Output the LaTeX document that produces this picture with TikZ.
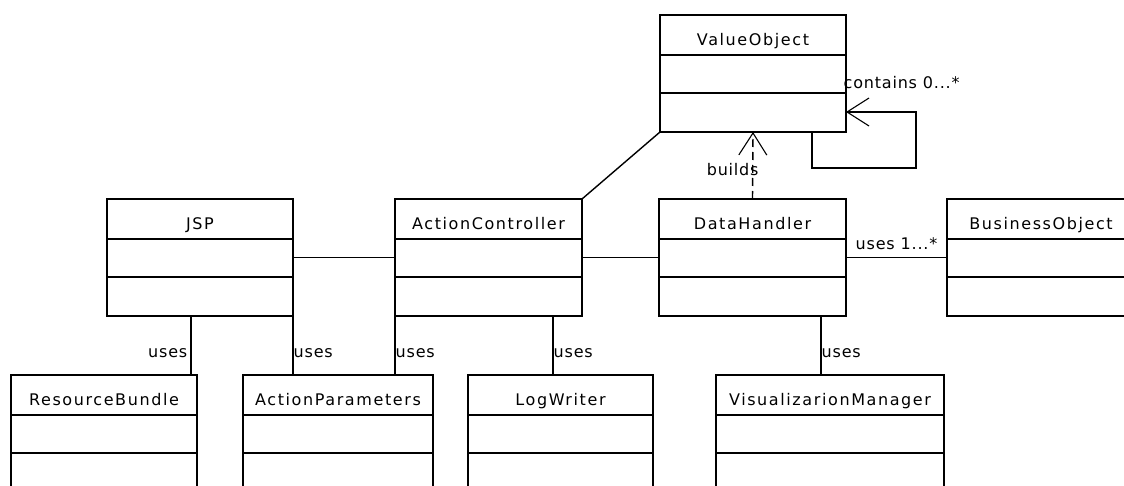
\documentclass[tikz,border=0pt]{standalone}
\usepackage{fontspec}
\usetikzlibrary{shapes.multipart,arrows.meta}
\newfontfamily\classfont[LetterSpace=10]{DejaVu Sans}
\newfontfamily\assocfont[LetterSpace=5]{DejaVu Sans}
% name compartment, then two empty ones
\newcommand{\umlbox}[1]{\vbox to 38.6pt{\vfil\hbox{\smash{#1}}\vskip 9pt}\nodepart{two}\vbox to 36.6pt{}\nodepart{three}\vbox to 37.6pt{}}
\begin{document}
\begin{tikzpicture}[x=1pt,y=-1pt,line width=1.4pt,
  umlclass/.style={draw,rectangle split,rectangle split parts=3,inner sep=0pt,outer sep=0pt,
    minimum width=186pt,anchor=north west,font=\classfont\fontsize{16}{19}\selectfont},
  assoc/.style={font=\assocfont\fontsize{16}{19}\selectfont,inner sep=0pt},
  openhead/.style={-{Straight Barb[length=22pt,width=28pt,line width=1.1pt]}}]
 \useasboundingbox (0,0) rectangle (1124,486);
 \clip (0,0) rectangle (1124,486);
 \node[umlclass] (vo) at (660,15) {\umlbox{ValueObject}};
 \node[umlclass] (jsp) at (107,199) {\umlbox{JSP}};
 \node[umlclass,minimum width=187pt] (ac) at (395,199) {\umlbox{ActionController}};
 \node[umlclass,minimum width=187pt] (dh) at (659,199) {\umlbox{DataHandler}};
 \node[umlclass,minimum width=188pt] (bo) at (947,199) {\umlbox{BusinessObject}};
 \node[umlclass] (rb) at (11,375) {\umlbox{ResourceBundle}};
 \node[umlclass,minimum width=190pt] (ap) at (243,375) {\umlbox{ActionParameters}};
 \node[umlclass,minimum width=185pt] (lw) at (468,375) {\umlbox{LogWriter}};
 \node[umlclass,minimum width=228pt] (vm) at (716,375) {\umlbox{VisualizarionManager}};
 \draw (jsp.east) -- (ac.west);
 \draw (ac.east) -- (dh.west);
 \draw (dh.east) -- node[assoc,anchor=base,yshift=8pt]{uses 1...*} (bo.west);
 \draw (ac.north east) -- (vo.south west);
 \draw[openhead,dash pattern=on 8pt off 5pt] (dh.north) -- node[assoc,pos=0.35,anchor=base,xshift=-20pt]{builds} (vo.south);
 \draw[openhead] ([xshift=-34pt]vo.south east) -- ++(0,36) -| ([xshift=70pt,yshift=20pt]vo.south east)
   -- ([yshift=20pt]vo.south east) node[assoc,anchor=base west,xshift=-3pt,yshift=23pt]{contains 0...*};
 \coordinate (rbtop) at ([xshift=-6pt]rb.north east);
 \coordinate (lwtop) at ([xshift=-29pt]ac.south east);
 \coordinate (vmtop) at ([xshift=-25pt]dh.south east);
 \draw (rbtop |- jsp.south) -- node[assoc,pos=0.7,anchor=base east,xshift=-3pt]{uses} (rbtop);
 \draw (jsp.south east) -- node[assoc,pos=0.7,anchor=base west]{uses} (jsp.south east |- ap.north);
 \draw (ac.south west) -- node[assoc,pos=0.7,anchor=base west]{uses} (ac.south west |- ap.north);
 \draw (lwtop) -- node[assoc,pos=0.7,anchor=base west]{uses} (lwtop |- lw.north);
 \draw (vmtop) -- node[assoc,pos=0.7,anchor=base west]{uses} (vmtop |- vm.north);
\end{tikzpicture}
\end{document}
